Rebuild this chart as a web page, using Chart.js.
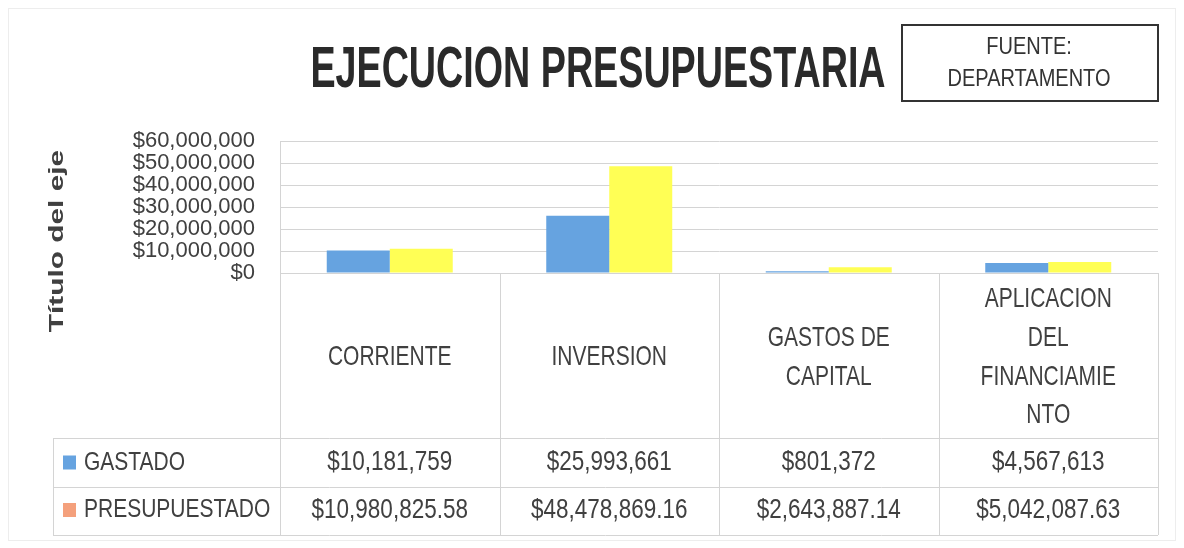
<!DOCTYPE html>
<html>
<head>
<meta charset="utf-8">
<script src="https://cdn.jsdelivr.net/npm/chart.js@4.4.1/dist/chart.umd.min.js"></script>
<style>
  html, body { margin: 0; padding: 0; background: #fff; }
  #wrap { width: 1184px; height: 548px; }
</style>
</head>
<body>
<div id="wrap"><canvas id="chart" width="1184" height="548"></canvas></div>
<script>
// chart data
const categories = [
  ['CORRIENTE'],
  ['INVERSION'],
  ['GASTOS DE', 'CAPITAL'],
  ['APLICACION', 'DEL', 'FINANCIAMIE', 'NTO']
];
const gastado = [10181759, 25993661, 801372, 4567613];
const presupuestado = [10980825.58, 48478869.16, 2643887.14, 5042087.63];
const seriesNames = ['GASTADO', 'PRESUPUESTADO'];
const yMin = 0, yMax = 60000000, yStep = 10000000;

const titleText = 'EJECUCION PRESUPUESTARIA';
const sourceLines = ['FUENTE:', 'DEPARTAMENTO'];
const axisTitle = 'Título del eje';

const FONT = "'Liberation Sans', Arial, sans-serif";
const TEXT = '#404040';
const LINE = '#d4d4d4';

function money(v, dec) {
  return '$' + v.toLocaleString('en-US', { minimumFractionDigits: dec, maximumFractionDigits: dec });
}

//draw text stretched like the scan
function txt(ctx, s, x, y, font, sy, align, color) {
  ctx.save();
  ctx.translate(x, y);
  ctx.scale(1, sy);
  ctx.font = font;
  ctx.textAlign = align;
  ctx.textBaseline = 'middle';
  ctx.fillStyle = color;
  ctx.fillText(s, 0, 0);
  ctx.restore();
}

const tablePlugin = {
  id: 'dataTable',
  afterDraw(chart) {
    const ctx = chart.ctx;
    const area = chart.chartArea;
    const x = chart.scales.x;
    const n = categories.length;
    const cw = (area.right - area.left) / n;
    const rowTop = area.bottom, row1 = 438, row2 = 487, row3 = 535, tableLeft = 53;

    // faint outer frame
    ctx.save();
    ctx.strokeStyle = '#ededed';
    ctx.lineWidth = 1;
    ctx.strokeRect(8.5, 8.5, 1167, 532);

    // table grid
    ctx.strokeStyle = LINE;
    ctx.beginPath();
    for (let i = 0; i <= n; i++) {
      const px = Math.round(area.left + i * cw) + 0.5;
      ctx.moveTo(px, rowTop);
      ctx.lineTo(px, row3);
    }
    ctx.moveTo(tableLeft + 0.5, row1);
    ctx.lineTo(tableLeft + 0.5, row3);
    [row1, row2, row3].forEach(function (ry) {
      ctx.moveTo(tableLeft, ry + 0.5);
      ctx.lineTo(area.right, ry + 0.5);
    });
    ctx.stroke();
    ctx.restore();

    // category labels
    const lh = 38.7;
    const mid = (rowTop + row1) / 2 + 2;
    categories.forEach(function (lines, i) {
      const cx = x.getPixelForValue(i);
      const y0 = mid - (lines.length - 1) * lh / 2;
      lines.forEach(function (s, k) {
        txt(ctx, s, cx, y0 + k * lh, '21px ' + FONT, 1.33, 'center', TEXT);
      });
    });

    // series rows
    const rows = [
      { name: seriesNames[0], data: gastado, dec: 0, color: '#66a3e0', y: (row1 + row2) / 2 },
      { name: seriesNames[1], data: presupuestado, dec: 2, color: '#f4a07c', y: (row2 + row3) / 2 - 1 }
    ];
    rows.forEach(function (r) {
      ctx.fillStyle = r.color;
      ctx.fillRect(63, r.y - 7, 13, 14);
      txt(ctx, r.name, 84, r.y, '21px ' + FONT, 1.22, 'left', TEXT);
      r.data.forEach(function (v, i) {
        txt(ctx, money(v, r.dec), x.getPixelForValue(i), r.y, '22.5px ' + FONT, 1.25, 'center', TEXT);
      });
    });

    // title
    txt(ctx, titleText, 598, 71, 'bold 37.7px ' + FONT, 1.52, 'center', '#2a2a2a');

    // source box
    ctx.save();
    ctx.strokeStyle = '#333';
    ctx.lineWidth = 2;
    ctx.strokeRect(902, 25, 256, 76);
    ctx.restore();
    txt(ctx, sourceLines[0], 1029, 47, '20px ' + FONT, 1.2, 'center', '#333');
    txt(ctx, sourceLines[1], 1029, 79, '20px ' + FONT, 1.2, 'center', '#333');

    // axis title
    ctx.save();
    ctx.translate(57, 241);
    ctx.rotate(-Math.PI / 2);
    ctx.scale(1.42, 1);
    ctx.font = 'bold 21px ' + FONT;
    ctx.textAlign = 'center';
    ctx.textBaseline = 'middle';
    ctx.fillStyle = TEXT;
    ctx.fillText(axisTitle, 0, 0);
    ctx.restore();
  }
};

let ctx = document.getElementById('chart').getContext('2d');

let chart = new Chart(ctx, {
  type: 'bar',
  data: {
    labels: categories,
    datasets: [
      { label: seriesNames[0], data: gastado, backgroundColor: '#66a3e0' },
      { label: seriesNames[1], data: presupuestado, backgroundColor: '#ffff55' }
    ]
  },
  options: {
    responsive: false,
    animation: false,
    layout: { padding: { top: 141, right: 26, bottom: 0, left: 0 } },
    datasets: { bar: { categoryPercentage: 0.574, barPercentage: 1 } },
    plugins: {
      legend: { display: false },
      title: { display: false },
      tooltip: { enabled: false }
    },
    scales: {
      x: {
        ticks: { display: false },
        grid: { display: false },
        border: { display: false },
        afterFit: function (scale) { scale.height = 275; }
      },
      y: {
        min: yMin,
        max: yMax,
        ticks: {
          stepSize: yStep,
          autoSkip: false,
          padding: 25,
          color: TEXT,
          font: { family: FONT, size: 22 },
          callback: function (v) { return money(v, 0); }
        },
        grid: { color: LINE, lineWidth: 1, drawTicks: false },
        border: { color: LINE },
        afterFit: function (scale) { scale.width = 280; }
      }
    }
  },
  plugins: [tablePlugin]
});
</script>
</body>
</html>
